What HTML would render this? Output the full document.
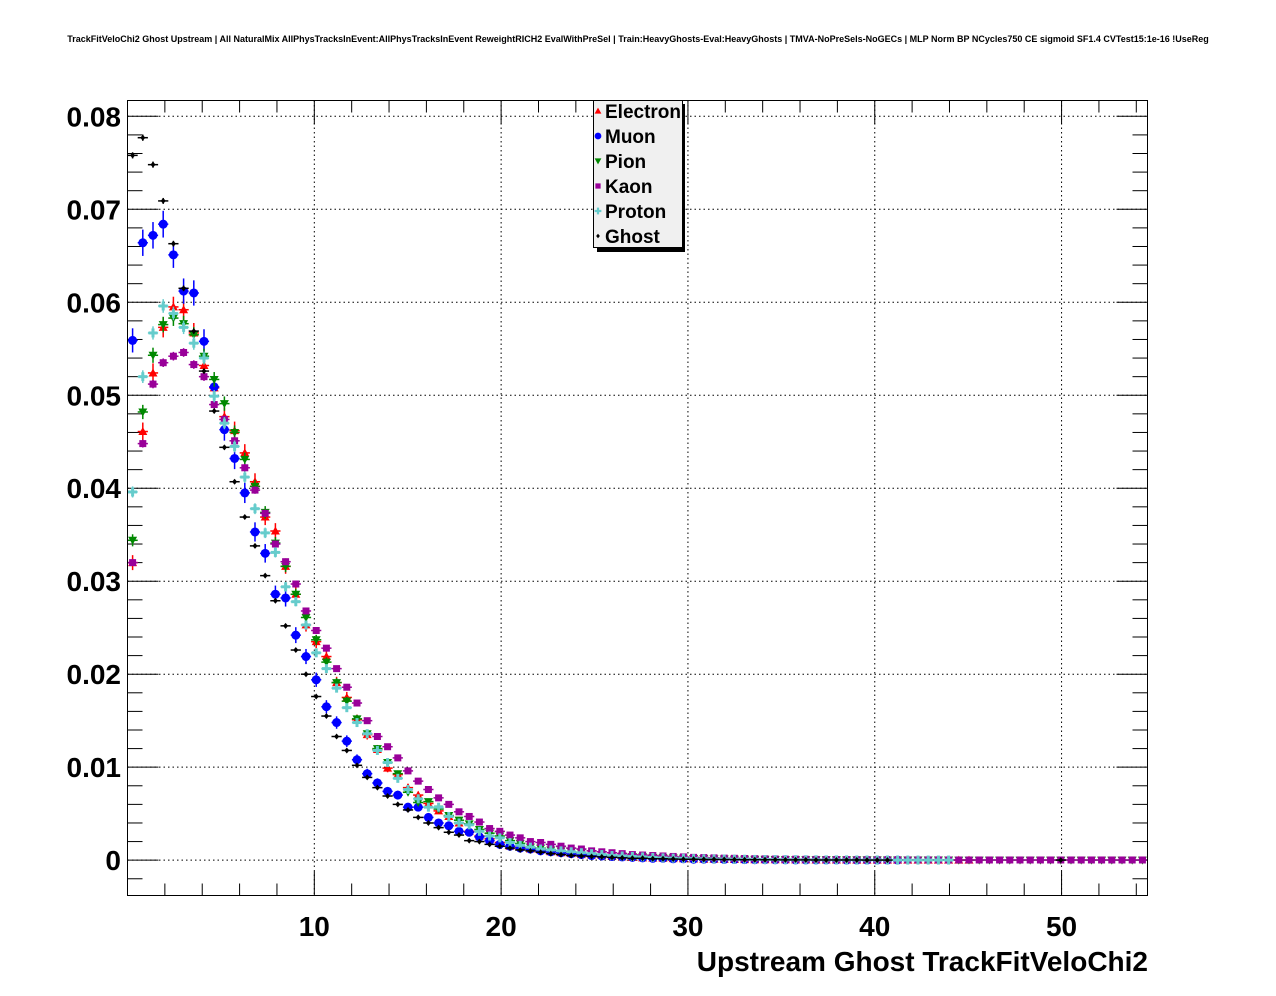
<!DOCTYPE html>
<html><head><meta charset="utf-8"><style>
html,body{margin:0;padding:0;background:#fff;}
svg{display:block;font-family:"Liberation Sans",Arial,sans-serif;}
</style></head><body>
<svg id="c" width="1276" height="996" viewBox="0 0 1276 996">
<text x="638" y="42" text-anchor="middle" font-size="9" font-weight="bold">TrackFitVeloChi2 Ghost Upstream | All NaturalMix AllPhysTracksInEvent:AllPhysTracksInEvent ReweightRICH2 EvalWithPreSel | Train:HeavyGhosts-Eval:HeavyGhosts | TMVA-NoPreSels-NoGECs | MLP Norm BP NCycles750 CE sigmoid SF1.4 CVTest15:1e-16 !UseReg</text>
<g id="grid"></g>
<g id="axes"></g>
<g id="marks"></g>
<rect x="127.5" y="100.5" width="1020" height="795" fill="none" stroke="#000" stroke-width="1"/>
<text x="1148" y="971" text-anchor="end" font-size="28" font-weight="bold">Upstream Ghost TrackFitVeloChi2</text>
<g>
<rect x="597" y="104" width="88" height="148" fill="#000"/>
<rect x="593.5" y="100.5" width="89" height="147" fill="#f0f0f0" stroke="#000"/>
<g id="leg"></g>
</g>
</svg>
<script>
const xMin=0, xMax=54.6, nBins=100;
const yMin=-0.0038, yMax=0.0817;
const xTicks=[10,20,30,40,50];
const yTicks=[0,0.01,0.02,0.03,0.04,0.05,0.06,0.07,0.08];
const yTickLabels=["0","0.01","0.02","0.03","0.04","0.05","0.06","0.07","0.08"];
const seriesNames=["Electron","Muon","Pion","Kaon","Proton","Ghost"];
// values in units of 1e-3
const electron=[32.0,46.1,52.4,57.3,59.5,59.2,56.7,53.2,50.8,47.7,46.2,43.8,40.7,36.9,35.4,31.6,28.6,25.3,23.5,21.9,19.1,17.5,15.1,13.5,11.9,9.9,9.2,7.8,7.0,6.1,5.3,4.7,4.0,3.1,2.6,2.3,1.9,1.5,1.4,1.2,1.1,0.9,0.8,0.7,0.6,0.55,0.5,0.4,0.35,0.3,0.25,0.22,0.2,0.17,0.15,0.12,0.1,0.1,0.08,0.07,0.06,0.05,0.05,0.04,0.04,0.03,0.03,0.02,0.02,0.02,0.02,0.01,0.01,0.01,0.01,0.01,0.01,0.01,0.01,0.01,0.01,0.01,0.01,0,0,0,0,0,0,0,0,0,0,0,0,0,0,0,0,0];
const muon=[55.9,66.4,67.2,68.4,65.1,61.2,61.0,55.8,50.9,46.3,43.2,39.5,35.3,33.0,28.6,28.2,24.2,21.9,19.4,16.5,14.8,12.8,10.8,9.3,8.3,7.4,7.0,5.7,5.7,4.6,4.0,3.7,3.1,3.0,2.5,2.1,1.7,1.5,1.3,1.2,1.0,0.9,0.8,0.7,0.6,0.5,0.45,0.4,0.35,0.3,0.25,0.2,0.2,0.15,0.15,0.1,0.1,0.1,0.08,0.08,0.06,0.05,0.05,0.04,0.04,0.03,0.03,0.02,0.02,0.02,0.01,0.01,0.01,0.01,0.01,0.01,0,0,0,0,0,0,0,0,0,0,0,0,0,0,0,0,0,0,0,0,0,0,0,0];
const pion=[34.4,48.2,54.3,57.6,58.3,57.7,56.5,54.2,51.7,49.1,46.0,43.1,40.2,37.4,34.1,31.6,28.6,26.1,23.7,21.3,19.1,17.1,15.2,13.6,12.0,10.5,9.3,7.3,6.2,6.3,5.5,4.8,4.3,3.9,3.3,2.9,2.6,2.1,1.8,1.4,1.3,1.1,1.0,0.9,0.8,0.7,0.6,0.5,0.45,0.4,0.35,0.3,0.27,0.24,0.2,0.18,0.16,0.14,0.12,0.1,0.1,0.09,0.08,0.07,0.06,0.05,0.05,0.04,0.04,0.04,0.03,0.03,0.03,0.03,0.02,0.02,0.02,0.02,0.02,0.02,0.02,0.01,0.01,0.01,0.01,0.01,0.01,0.01,0.01,0.01,0.01,0.01,0.01,0.01,0.01,0.01,0.01,0.01,0.01,0.01];
const kaon=[32.0,44.8,51.2,53.5,54.2,54.6,53.3,52.0,49.0,47.4,45.1,42.2,39.8,37.3,34.0,32.1,29.7,26.8,24.7,22.8,20.6,18.6,16.9,15.0,13.3,12.2,11.0,9.6,8.5,7.6,6.7,6.0,5.2,4.7,4.1,3.4,3.1,2.7,2.4,2.0,1.9,1.7,1.5,1.3,1.2,1.0,0.9,0.8,0.7,0.6,0.55,0.5,0.45,0.4,0.35,0.3,0.28,0.25,0.22,0.2,0.18,0.16,0.14,0.12,0.1,0.1,0.09,0.08,0.07,0.06,0.06,0.05,0.05,0.04,0.04,0.04,0.03,0.03,0.03,0.03,0.02,0.02,0.02,0.02,0.02,0.02,0.02,0.02,0.02,0.02,0.02,0.02,0.02,0.02,0.02,0.02,0.02,0.02,0.02,0.02];
const proton=[39.6,52.0,56.7,59.6,58.8,57.3,55.6,54.0,49.9,47.0,44.5,41.2,37.8,35.2,33.1,29.4,27.8,25.3,22.3,20.6,18.5,16.4,14.8,13.6,11.8,10.5,8.8,7.6,6.6,5.7,5.7,4.7,4.0,3.8,3.1,2.6,2.4,1.9,1.6,1.4,1.2,1.1,1.0,0.9,0.8,0.7,0.6,0.5,0.45,0.4,0.35,0.3,0.25,0.22,0.2,0.17,0.15,0.13,0.12,0.1,0.1,0.08,0.07,0.06,0.05,0.05,0.04,0.04,0.03,0.03,0.03,0.02,0.02,0.02,0.02,0.01,0.01,0.01,0.01,0.01,0.01,0,0,0,0,0,0,0,0,0,0,0,0,0,0,0,0,0,0,0];
const ghost=[75.8,77.7,74.8,70.9,66.3,61.5,56.9,52.6,48.3,44.4,40.7,36.9,33.8,30.6,27.9,25.2,22.6,20.0,17.6,15.5,13.3,11.8,10.2,8.9,7.8,6.9,6.0,5.4,4.6,4.0,3.5,3.0,2.7,2.1,2.0,1.7,1.5,1.3,1.1,1.0,0.85,0.7,0.6,0.5,0.45,0.4,0.35,0.3,0.25,0.2,0.2,0.15,0.15,0.12,0.1,0.1,0.08,0.08,0.07,0.06,0.05,0.05,0.04,0.04,0.03,0.03,0.03,0.02,0.02,0.02,0.02,0.02,0.01,0.01,0.01,0,0,0,0,0,0,0,0,0,0,0,0,0,0,0,0,0.01,0,0,0,0,0,0,0,0];
const seriesData=[electron,muon,pion,kaon,proton,ghost];
const colors=["#ff0000","#0000ff","#008800","#990099","#66cccc","#000000"];
const errK=[0.0045,0.0055,0.0035,0.002,0.003,0.0012];

const L=127.5,R=1147.5,T=100.5,B=895.5;
const sx=v=>L+(v-xMin)/(xMax-xMin)*(R-L);
const sy=v=>B-(v-yMin)/(yMax-yMin)*(B-T);
const NS="http://www.w3.org/2000/svg";
function mk(tag,attrs,parent){const e=document.createElementNS(NS,tag);for(const k in attrs)e.setAttribute(k,attrs[k]);parent.appendChild(e);return e;}
const grid=document.getElementById('grid'),axes=document.getElementById('axes'),marks=document.getElementById('marks'),leg=document.getElementById('leg');
xTicks.forEach((t,i)=>{
  const x=sx(t);
  const g=mk('line',{x1:x,x2:x,y1:T,y2:B,stroke:'#000','stroke-dasharray':'1.5,3','stroke-width':1},grid);
  
  
  const lb=mk('text',{x:x,y:936,'text-anchor':'middle','font-size':28,'font-weight':'bold'},axes);
  lb.textContent=String(t);
  
  
});
for(let v=0;v<=xMax;v+=2){
  const x=sx(v);const major=(v%10===0);const len=major?24:12;
  mk('line',{x1:x,x2:x,y1:B,y2:B-len,stroke:'#000'},axes);
  mk('line',{x1:x,x2:x,y1:T,y2:T+len,stroke:'#000'},axes);
}
yTicks.forEach((t,i)=>{
  const y=sy(t);
  const g=mk('line',{x1:L,x2:R,y1:y,y2:y,stroke:'#000','stroke-dasharray':'1.5,3','stroke-width':1},grid);
  
  
  const lb=mk('text',{x:121,y:y+10,'text-anchor':'end','font-size':28,'font-weight':'bold'},axes);
  lb.textContent=yTickLabels[i];
  
  
});
for(let k=-1;k<=40;k++){
  const v=k*0.002;if(v<yMin||v>yMax)continue;
  const y=sy(v);const major=(k%5===0);const len=major?31:15;
  mk('line',{x1:L,x2:L+len,y1:y,y2:y,stroke:'#000'},axes);
  mk('line',{x1:R,x2:R-len,y1:y,y2:y,stroke:'#000'},axes);
}
function marker(kind,x,y,c,p,s){
  s=s||1;
  if(kind===0) mk('polygon',{points:`${x},${y-4.5*s} ${x-4.5*s},${y+3.5*s} ${x+4.5*s},${y+3.5*s}`,fill:c},p);
  else if(kind===1) mk('circle',{cx:x,cy:y,r:4.5*s,fill:c},p);
  else if(kind===2) mk('polygon',{points:`${x},${y+4.5*s} ${x-4.5*s},${y-3.5*s} ${x+4.5*s},${y-3.5*s}`,fill:c},p);
  else if(kind===3) mk('rect',{x:x-3.5*s,y:y-3.5*s,width:7*s,height:7*s,fill:c},p);
  else if(kind===4){mk('rect',{x:x-4.5*s,y:y-1.5*s,width:9*s,height:3*s,fill:c},p);mk('rect',{x:x-1.5*s,y:y-4.5*s,width:3*s,height:9*s,fill:c},p);}
  else mk('polygon',{points:`${x},${y-3*s} ${x+2.5*s},${y} ${x},${y+3*s} ${x-2.5*s},${y}`,fill:c},p);
}
const bw=(xMax-xMin)/nBins;
const groups={};
seriesNames.forEach((n,si)=>{
  const g=mk('g',{},marks);
  
  
  groups[si]=g;
});
function drawPoint(si,i){
  const v=seriesData[si][i];
  if(!(v>0))return;
  const c=colors[si];const g=groups[si];
  const val=v/1000;const xc=sx(xMin+(i+0.5)*bw);const y=sy(val);
  const e=errK[si]*Math.sqrt(val);
  mk('line',{x1:sx(xMin+i*bw),x2:sx(xMin+(i+1)*bw),y1:y,y2:y,stroke:c,'stroke-width':1.5},g);
  mk('line',{x1:xc,x2:xc,y1:sy(val+e),y2:sy(val-e),stroke:c,'stroke-width':1.5},g);
  marker(si,xc,y,c,g);
}
const orderHead=[3,4,2,0,1,5], orderTail=[5,1,4,0,2,3];
for(let i=0;i<nBins;i++){
  (i<40?orderHead:orderTail).forEach(si=>drawPoint(si,i));
}
seriesNames.forEach((n,i)=>{
  const y=111+i*25;
  const g=mk('g',{},leg);
  
  
  marker(i,598,y,colors[i],g,0.75);
  const t=mk('text',{x:605,y:y+7,'font-size':19,'font-weight':'bold'},g);
  t.textContent=n;
});
</script>
</body></html>
